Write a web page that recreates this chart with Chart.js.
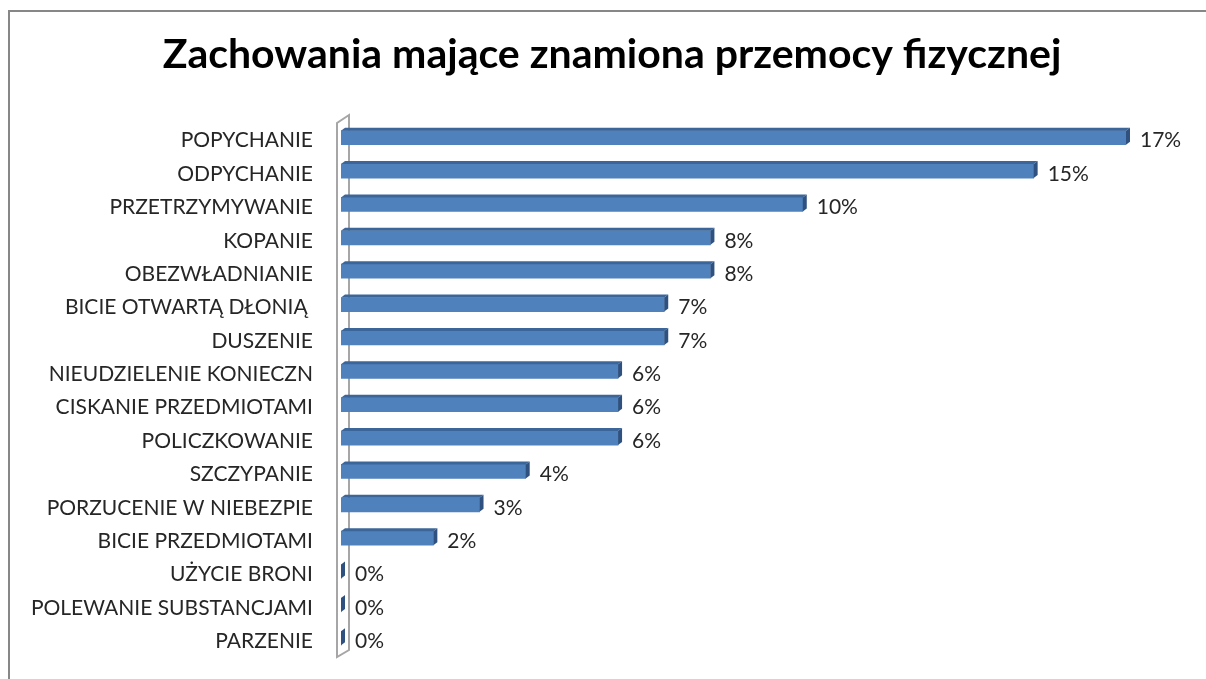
<!DOCTYPE html>
<html>
<head>
<meta charset="utf-8">
<script src="https://cdn.jsdelivr.net/npm/chart.js@4.4.1/dist/chart.umd.min.js"></script>
<style>
  html, body { margin: 0; padding: 0; background: #fff; overflow: hidden; }
  #frame {
    position: absolute; left: 8px; top: 10px; width: 1300px; height: 800px;
    border-top: 2px solid #878787; border-left: 2px solid #878787;
  }
  #wrap { position: absolute; left: 0; top: 0; width: 1206px; height: 679px; }
</style>
</head>
<body>
<div id="frame"></div>
<div id="wrap"><canvas id="chart"></canvas></div>
<script>
const TITLE = 'Zachowania mające znamiona przemocy fizycznej';

const categories = [
  'POPYCHANIE',
  'ODPYCHANIE',
  'PRZETRZYMYWANIE',
  'KOPANIE',
  'OBEZWŁADNIANIE',
  'BICIE OTWARTĄ DŁONIĄ ',
  'DUSZENIE',
  'NIEUDZIELENIE KONIECZN',
  'CISKANIE PRZEDMIOTAMI',
  'POLICZKOWANIE',
  'SZCZYPANIE',
  'PORZUCENIE W NIEBEZPIE',
  'BICIE PRZEDMIOTAMI',
  'UŻYCIE BRONI',
  'POLEWANIE SUBSTANCJAMI',
  'PARZENIE'
];

const values = [17, 15, 10, 8, 8, 7, 7, 6, 6, 6, 4, 3, 2, 0, 0, 0];

const FONT = 'Lato, "Open Sans", sans-serif';
const DEPTH_X = 4;
const DEPTH_Y = 3;

// side wall of the 3D plot, drawn behind the bars
const wallPlugin = {
  id: 'wall',
  beforeDatasetsDraw(chart) {
    const { ctx, chartArea: a } = chart;
    const fx = a.left - 4;
    const bx = a.left + 8;
    ctx.save();
    ctx.beginPath();
    ctx.moveTo(fx, a.bottom + 2);
    ctx.lineTo(fx, a.top + 2);
    ctx.lineTo(bx, a.top - 6);
    ctx.lineTo(bx, a.bottom - 5);
    ctx.closePath();
    ctx.fillStyle = '#ffffff';
    ctx.fill();
    ctx.strokeStyle = '#a6a6a6';
    ctx.lineWidth = 2;
    ctx.stroke();
    ctx.restore();
  }
};

// top and side faces of each bar + value labels
const bar3dPlugin = {
  id: 'bar3d',
  afterDatasetsDraw(chart) {
    const { ctx } = chart;
    const meta = chart.getDatasetMeta(0);
    ctx.save();
    meta.data.forEach((bar, i) => {
      const { x, y, base, height } = bar.getProps(['x', 'y', 'base', 'height'], true);
      const top = y - height / 2;
      const bottom = y + height / 2;

      ctx.beginPath();
      ctx.moveTo(base, top);
      ctx.lineTo(base + DEPTH_X, top - DEPTH_Y);
      ctx.lineTo(x + DEPTH_X, top - DEPTH_Y);
      ctx.lineTo(x, top);
      ctx.closePath();
      ctx.fillStyle = '#3c6699';
      ctx.fill();

      ctx.beginPath();
      ctx.moveTo(x, top);
      ctx.lineTo(x + DEPTH_X, top - DEPTH_Y);
      ctx.lineTo(x + DEPTH_X, bottom - DEPTH_Y);
      ctx.lineTo(x, bottom);
      ctx.closePath();
      ctx.fillStyle = '#2f5180';
      ctx.fill();

      ctx.fillStyle = '#262626';
      ctx.font = '21px ' + FONT;
      ctx.textAlign = 'left';
      ctx.textBaseline = 'middle';
      ctx.fillText(values[i] + '%', x + DEPTH_X + 10, y + 3);
    });
    ctx.restore();
  }
};

const titlePlugin = {
  id: 'customTitle',
  afterDraw(chart) {
    const { ctx } = chart;
    ctx.save();
    ctx.fillStyle = '#000000';
    ctx.font = 'bold 41px ' + FONT;
    ctx.textAlign = 'center';
    ctx.textBaseline = 'alphabetic';
    ctx.fillText(TITLE, 612, 68);
    ctx.restore();
  }
};

new Chart(document.getElementById('chart'), {
  type: 'bar',
  data: {
    labels: categories,
    datasets: [{
      data: values,
      backgroundColor: '#4f81bd',
      borderWidth: 0,
      barThickness: 14
    }]
  },
  options: {
    indexAxis: 'y',
    responsive: true,
    maintainAspectRatio: false,
    animation: false,
    events: [],
    layout: { padding: { left: 0, right: 80, top: 121, bottom: 24 } },
    plugins: {
      legend: { display: false },
      title: { display: false },
      tooltip: { enabled: false }
    },
    scales: {
      x: { display: false, min: 0, max: 17 },
      y: {
        afterFit(scale) {
          scale.width = 341;
          // tick padding would otherwise eat into the plot height
          scale.paddingTop = 0;
          scale.paddingBottom = 0;
        },
        grid: { display: false, drawTicks: false },
        border: { display: false },
        ticks: {
          padding: 28,
          labelOffset: 3,
          color: '#262626',
          font: { family: FONT, size: 21 },
          autoSkip: false
        }
      }
    }
  },
  plugins: [wallPlugin, bar3dPlugin, titlePlugin]
});
</script>
</body>
</html>
